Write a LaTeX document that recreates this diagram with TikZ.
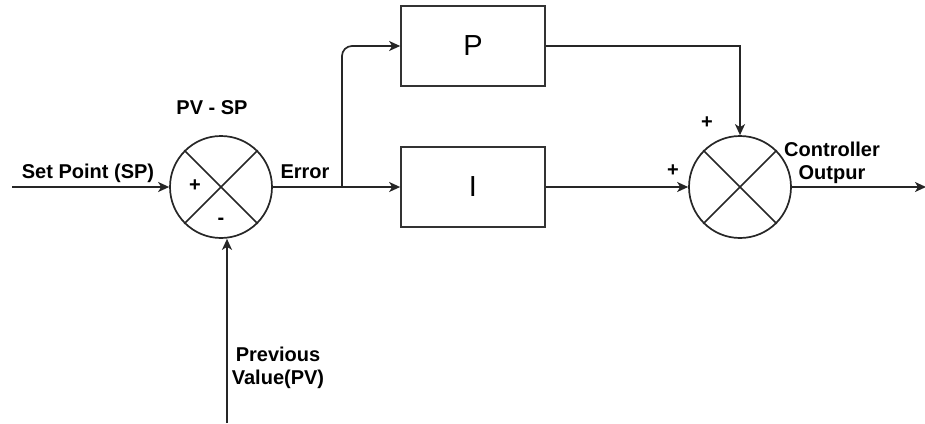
\documentclass[tikz,border=0pt]{standalone}
\usepackage{fontspec}
\setmainfont{Liberation Sans}
\usetikzlibrary{arrows.meta}
\begin{document}
\begin{tikzpicture}[x=1pt,y=-1pt,
  wire/.style={line width=1.7pt,draw=black!85},
  arr/.style={wire,-{Stealth[length=11pt,width=10pt,inset=3pt]}},
  summer/.style={circle,draw=black!85,line width=1.7pt,minimum size=102pt,inner sep=0pt},
  block/.style={draw=black!80,line width=1.7pt,minimum width=144pt,minimum height=80pt,inner sep=0pt,
    font=\fontsize{29}{32}\selectfont},
  lbl/.style={font=\bfseries\fontsize{20}{23}\selectfont,inner sep=0pt,align=center},
  sgn/.style={font=\bfseries\fontsize{20}{22}\selectfont,inner sep=0pt}]
\useasboundingbox (0,0) rectangle (925,423);

% summing junctions with their cross marks
\node[summer] (s1) at (221,187) {};
\node[summer] (s2) at (740,187) {};
\foreach \s in {s1,s2}{
  \draw[wire] (\s.45) -- (\s.225);
  \draw[wire] (\s.135) -- (\s.315);
}

% controller blocks
\node[block] (P) at (473,46) {P};
\node[block] (I) at (473,187) {I};

% free ends and branch point
\coordinate (sp) at (12,187);
\coordinate (pv) at (227,423);
\coordinate (br) at (342,187);
\coordinate (out) at (926,187);

% connectors
\draw[arr] (sp) -- (s1.west);
\draw[arr] (pv) -- (pv |- s1.south);
\draw[wire] (s1.east) -- (br);
\draw[arr] (br) -- (I.west);
\draw[arr,rounded corners=10pt] (br) |- (P.west);
\draw[arr] (P.east) -| (s2.north);
\draw[arr] (I.east) -- (s2.west);
\draw[arr] (s2.east) -- (out);

% labels
\node[lbl] (tsp) at (88,173) {Set Point (SP)};
\node[lbl] (tdiff) at (212,108) {PV - SP};
\node[lbl] (terr) at (305,172) {Error};
\node[lbl] (tpv) at (278,368) {Previous\\Value(PV)};
\node[lbl] (tout) at (832,163) {Controller\\Outpur};

% signs
\node[sgn] (p1) at (195,186) {+};
\node[sgn] (m1) at (221,221) {-};
\node[sgn] (p2) at (707,123) {+};
\node[sgn] (p3) at (673,171) {+};
\end{tikzpicture}
\end{document}
